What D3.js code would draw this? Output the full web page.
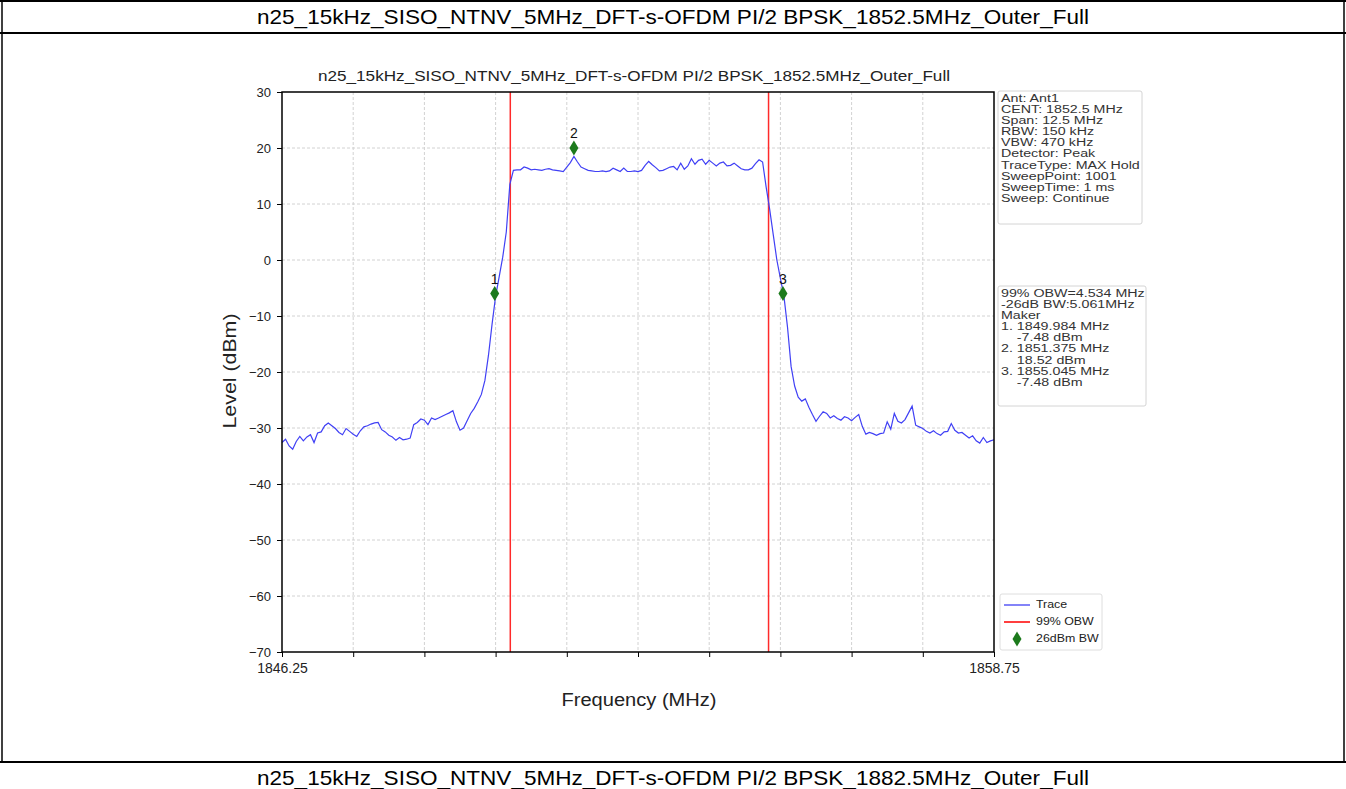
<!DOCTYPE html>
<html>
<head>
<meta charset="utf-8">
<script src="https://cdn.jsdelivr.net/npm/d3@7"></script>
<style>
  html, body { margin: 0; padding: 0; background: #fff; }
  svg { display: block; font-family: "Liberation Sans", Arial, sans-serif; }
</style>
</head>
<body>
<div id="chart"></div>
<script>
// sheet captions
const headerTop = 'n25_15kHz_SISO_NTNV_5MHz_DFT-s-OFDM PI/2 BPSK_1852.5MHz_Outer_Full';
const headerBottom = 'n25_15kHz_SISO_NTNV_5MHz_DFT-s-OFDM PI/2 BPSK_1882.5MHz_Outer_Full';
const chartTitle = 'n25_15kHz_SISO_NTNV_5MHz_DFT-s-OFDM PI/2 BPSK_1852.5MHz_Outer_Full';

// sweep: 201 points from start freq, step 0.0625 MHz
const sweepStart = 1846.25;
const sweepStep = 0.0625;
const traceLevels = [
  -32.6, -32.0, -33.2, -33.8, -32.4, -31.5, -32.3, -31.6, -31.2, -32.6,
  -30.9, -30.7, -29.6, -29.1, -29.6, -30.1, -30.8, -31.2, -30.1, -30.6,
  -31.1, -31.5, -30.5, -29.8, -29.6, -29.3, -29.1, -29.0, -30.3, -30.7,
  -31.3, -31.6, -32.2, -31.7, -32.1, -32.0, -31.8, -29.4, -29.0, -28.4,
  -28.6, -29.4, -28.2, -28.5, -28.2, -27.9, -27.6, -27.3, -26.9, -28.9,
  -30.4, -30.0, -28.7, -27.4, -26.5, -25.3, -24.0, -21.5, -17.0, -11.5,
  -6.5, -3.0, 0.5, 5.0, 13.5, 16.0, 16.1, 16.1, 16.6, 16.4,
  16.1, 16.2, 16.1, 16.0, 16.2, 16.3, 16.1, 16.0, 15.9, 15.8,
  16.6, 17.4, 18.5, 17.5, 16.6, 16.3, 16.0, 15.9, 15.8, 15.8,
  15.9, 15.8, 15.9, 16.4, 16.1, 15.8, 16.4, 15.8, 15.8, 15.9,
  15.8, 16.0, 16.9, 17.6, 17.0, 16.5, 15.9, 16.0, 16.3, 16.6,
  16.7, 16.1, 17.3, 16.2, 16.8, 18.1, 17.1, 17.8, 18.0, 17.1,
  17.8, 17.3, 16.8, 17.3, 17.5, 16.8, 16.9, 17.3, 16.8, 16.3,
  16.1, 16.1, 16.4, 17.2, 17.9, 17.5, 13.0, 9.0, 4.5, 0.0,
  -3.3, -6.5, -12.0, -19.0, -22.5, -24.5, -25.2, -24.8, -26.3, -27.6,
  -28.8, -27.9, -27.1, -27.4, -28.2, -27.8, -28.3, -28.6, -28.0, -28.2,
  -28.7, -28.1, -27.6, -29.7, -31.1, -30.8, -31.0, -31.3, -31.0, -30.9,
  -28.9, -30.2, -27.4, -28.8, -29.1, -28.5, -27.3, -26.1, -29.5, -29.8,
  -30.1, -30.6, -30.9, -30.5, -31.0, -31.3, -30.7, -30.6, -29.2, -30.4,
  -30.9, -30.8, -31.3, -31.8, -31.4, -32.3, -32.7, -31.7, -32.6, -32.3,
  -32.1
];

// 99% OBW edges
const obwEdges = [1850.258, 1854.792];

// markers (as drawn on the plot)
const markerNames = ['1', '2', '3'];
const markerFreqs = [1849.984, 1851.375, 1855.045];
const markerLevels = [-6.0, 20.0, -6.0];

// axes
const xDomain = [1846.25, 1858.75];
const yDomain = [-70, 30];
const xTickValues = [1846.25, 1847.5, 1848.75, 1850, 1851.25, 1852.5, 1853.75, 1855, 1856.25, 1857.5, 1858.75];
const xTickLabels = ['1846.25', '', '', '', '', '', '', '', '', '', '1858.75'];
const yTickValues = [30, 20, 10, 0, -10, -20, -30, -40, -50, -60, -70];

// text boxes
const settingLines = ['Ant: Ant1', 'CENT: 1852.5 MHz', 'Span: 12.5 MHz', 'RBW: 150 kHz', 'VBW: 470 kHz',
  'Detector: Peak', 'TraceType: MAX Hold', 'SweepPoint: 1001', 'SweepTime: 1 ms', 'Sweep: Continue'];
const resultLines = ['99% OBW=4.534 MHz', '-26dB BW:5.061MHz', 'Maker', '1. 1849.984 MHz', '    -7.48 dBm',
  '2. 1851.375 MHz', '    18.52 dBm', '3. 1855.045 MHz', '    -7.48 dBm'];
const legendNames = ['Trace', '99% OBW', '26dBm BW'];

const W = 1346, H = 789;
const svg = d3.select('#chart').append('svg').attr('width', W).attr('height', H);

// page frame (document table look)
svg.append('line').attr('x1', 0).attr('x2', W).attr('y1', 1).attr('y2', 1).attr('stroke', '#000').attr('stroke-width', 2);
svg.append('line').attr('x1', 0).attr('x2', W).attr('y1', 33).attr('y2', 33).attr('stroke', '#000').attr('stroke-width', 2);
svg.append('line').attr('x1', 0).attr('x2', W).attr('y1', 762).attr('y2', 762).attr('stroke', '#000').attr('stroke-width', 2);
svg.append('line').attr('x1', 2).attr('x2', 2).attr('y1', 0).attr('y2', 762).attr('stroke', '#000').attr('stroke-width', 1.5);
svg.append('line').attr('x1', 1344).attr('x2', 1344).attr('y1', 0).attr('y2', 762).attr('stroke', '#000').attr('stroke-width', 1.5);

svg.append('text').attr('x', 673).attr('y', 24).attr('text-anchor', 'middle')
  .attr('textLength', 832).attr('lengthAdjust', 'spacingAndGlyphs')
  .style('font-size', '21px').text(headerTop);
svg.append('text').attr('x', 673).attr('y', 785).attr('text-anchor', 'middle')
  .attr('textLength', 832).attr('lengthAdjust', 'spacingAndGlyphs')
  .style('font-size', '21px').text(headerBottom);

// plot area
const pLeft = 282, pRight = 994, pTop = 92, pBottom = 652;
const x = d3.scaleLinear().domain(xDomain).range([pLeft, pRight]);
const y = d3.scaleLinear().domain(yDomain).range([pBottom, pTop]);

// grid
const grid = svg.append('g');
grid.selectAll('.vg').data(xTickValues.slice(1, -1)).join('line')
  .attr('x1', d => x(d)).attr('x2', d => x(d)).attr('y1', pTop).attr('y2', pBottom)
  .attr('stroke', '#d2d2d2').attr('stroke-width', 1).attr('stroke-dasharray', '3,2');
grid.selectAll('.hg').data(yTickValues.slice(1, -1)).join('line')
  .attr('x1', pLeft).attr('x2', pRight).attr('y1', d => y(d)).attr('y2', d => y(d))
  .attr('stroke', '#d2d2d2').attr('stroke-width', 1).attr('stroke-dasharray', '3,2');

// OBW lines
svg.selectAll('.obw').data(obwEdges).join('line')
  .attr('x1', d => x(d)).attr('x2', d => x(d)).attr('y1', pTop).attr('y2', pBottom)
  .attr('stroke', '#ff2a2a').attr('stroke-width', 1.5);

// trace
const traceData = traceLevels.map((l, i) => [sweepStart + i * sweepStep, l]);
const line = d3.line().x(d => x(d[0])).y(d => y(d[1]));
svg.append('path').datum(traceData).attr('d', line)
  .attr('fill', 'none').attr('stroke', '#4040f5').attr('stroke-width', 1.2);

// markers
const diamond = 'M0,-7.5 L4.5,0 L0,7.5 L-4.5,0 Z';
const mk = svg.selectAll('.mk').data(markerFreqs).join('g')
  .attr('transform', (d, i) => `translate(${x(d)},${y(markerLevels[i])})`);
mk.append('path').attr('d', diamond).attr('fill', '#1c7a1c');
mk.append('text').attr('y', -10).attr('text-anchor', 'middle')
  .style('font-size', '14px').attr('fill', '#111').text((d, i) => markerNames[i]);

// axes box
svg.append('rect').attr('x', pLeft).attr('y', pTop).attr('width', pRight - pLeft).attr('height', pBottom - pTop)
  .attr('fill', 'none').attr('stroke', '#000').attr('stroke-width', 1.5);

const xAxis = svg.append('g').attr('transform', `translate(0,${pBottom})`)
  .call(d3.axisBottom(x).tickValues(xTickValues).tickSize(5).tickFormat((d, i) => xTickLabels[i]));
xAxis.select('.domain').remove();
xAxis.selectAll('text').style('font-size', '14px').attr('fill', '#222').attr('y', 11).attr('dy', '0.71em');

const yAxis = svg.append('g').attr('transform', `translate(${pLeft},0)`)
  .call(d3.axisLeft(y).tickValues(yTickValues).tickSize(5));
yAxis.select('.domain').remove();
yAxis.selectAll('text').style('font-size', '13px').attr('fill', '#222').attr('x', -11);

// titles
svg.append('text').attr('x', 634).attr('y', 81).attr('text-anchor', 'middle')
  .attr('textLength', 632).attr('lengthAdjust', 'spacingAndGlyphs')
  .style('font-size', '14px').attr('fill', '#222').text(chartTitle);
svg.append('text').attr('x', 639).attr('y', 706).attr('text-anchor', 'middle')
  .attr('textLength', 155).attr('lengthAdjust', 'spacingAndGlyphs')
  .style('font-size', '18px').attr('fill', '#222').text('Frequency (MHz)');
svg.append('text').attr('transform', 'translate(236,371) rotate(-90)').attr('text-anchor', 'middle')
  .attr('textLength', 115).attr('lengthAdjust', 'spacingAndGlyphs')
  .style('font-size', '18px').attr('fill', '#222').text('Level (dBm)');

// info boxes
function textBox(lines, bx, by, bw, bh, ty) {
  const g = svg.append('g');
  g.append('rect').attr('x', bx).attr('y', by).attr('width', bw).attr('height', bh).attr('rx', 2)
    .attr('fill', '#fff').attr('stroke', '#d4d4d4').attr('stroke-width', 1);
  g.append('g').attr('transform', `translate(${bx + 3},0) scale(1.24,1)`)
    .selectAll('text').data(lines).join('text')
    .attr('x', 0).attr('y', (d, i) => ty + i * 11.1)
    .style('font-size', '11.5px').attr('fill', '#333')
    .style('white-space', 'pre').text(d => d);
}
textBox(settingLines, 998, 91, 144, 133, 102);
textBox(resultLines, 998, 286, 148, 120, 297);

// legend
const lg = svg.append('g');
lg.append('rect').attr('x', 1000).attr('y', 594).attr('width', 102).attr('height', 56).attr('rx', 2)
  .attr('fill', '#fff').attr('stroke', '#dedede');
const ly = [605, 622, 639];
lg.append('line').attr('x1', 1004).attr('x2', 1030).attr('y1', ly[0]).attr('y2', ly[0]).attr('stroke', '#4040f5').attr('stroke-width', 1.3);
lg.append('line').attr('x1', 1004).attr('x2', 1030).attr('y1', ly[1]).attr('y2', ly[1]).attr('stroke', '#ff2a2a').attr('stroke-width', 1.8);
lg.append('path').attr('d', diamond).attr('transform', `translate(1017,${ly[2]})`).attr('fill', '#1c7a1c');
lg.append('g').attr('transform', 'translate(1036,0) scale(1.24,1)')
  .selectAll('text').data(legendNames).join('text')
  .attr('x', 0).attr('y', (d, i) => ly[i] + 3.5)
  .style('font-size', '10px').attr('fill', '#222').text(d => d);
</script>
</body>
</html>
